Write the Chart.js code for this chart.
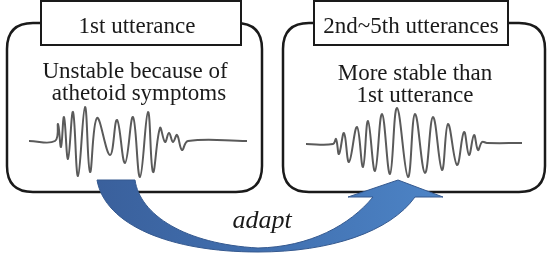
<!DOCTYPE html>
<html>
<head>
<meta charset="utf-8">
<script src="https://cdn.jsdelivr.net/npm/chart.js@4.4.0/dist/chart.umd.min.js"></script>
<style>
  html, body { margin: 0; padding: 0; background: #fff; }
  #wrap { width: 548px; height: 254px; position: relative; }
  .pre { font-family: "Liberation Serif"; position: absolute; left: -999px; }
</style>
</head>
<body>
<div id="wrap"><canvas id="diagram"></canvas></div>
<span class="pre">x</span><span class="pre" style="font-style:italic">x</span>
<script>
// waveforms (x, y in picture units)
var firstUtter = [
  [29,141],[55,141],[58,124],[61,147],[64,117],[68,159],[73,112],[78,176],
  [85,107],[90,172],[97,118],[110,155],[117,120],[125,163],[133,117],[140,177],
  [148,112],[153,172],[160,128],[165,142],[169,133],[173,142],[177,135],[182,150],
  [188,141],[247,141]
];
var laterUtter = [
  [306,144],[333,144],[336,139],[339,154],[344,133],[349,162],[357,127],[363,167],
  [368,121],[375,171],[382,114],[390,174],[397,108],[408,177],[415,114],[425,173],
  [433,117],[442,170],[448,124],[457,165],[464,132],[469,155],[474,135],[478,150],
  [482,142],[487,143],[522,143]
];

var titles = ["1st utterance", "2nd~5th utterances"];
var notes = [["Unstable because of", "athetoid symptoms"], ["More stable than", "1st utterance"]];
var arrowLabel = "adapt";

function toPts(arr) {
  return arr.map(function (p) { return { x: p[0], y: p[1] }; });
}

function rr(ctx, x, y, w, h, r) {
  ctx.beginPath();
  ctx.moveTo(x + r, y);
  ctx.lineTo(x + w - r, y);
  ctx.quadraticCurveTo(x + w, y, x + w, y + r);
  ctx.lineTo(x + w, y + h - r);
  ctx.quadraticCurveTo(x + w, y + h, x + w - r, y + h);
  ctx.lineTo(x + r, y + h);
  ctx.quadraticCurveTo(x, y + h, x, y + h - r);
  ctx.lineTo(x, y + r);
  ctx.quadraticCurveTo(x, y, x + r, y);
  ctx.closePath();
}

var panels = {
  id: 'panels',
  beforeDatasetsDraw: function (chart) {
    var ctx = chart.ctx, sx = chart.scales.x, sy = chart.scales.y;
    function X(v) { return sx.getPixelForValue(v); }
    function Y(v) { return sy.getPixelForValue(v); }
    ctx.save();
    ctx.strokeStyle = '#1a1a1a';
    ctx.lineWidth = 2.5;
    // outer rounded boxes
    rr(ctx, X(7), Y(23), X(262) - X(7), Y(192) - Y(23), 26);
    ctx.stroke();
    rr(ctx, X(283), Y(23), X(545) - X(283), Y(192) - Y(23), 26);
    ctx.stroke();
    // title boxes
    ctx.lineWidth = 2;
    var tb = [[41, 241], [314, 508]];
    tb.forEach(function (b) {
      ctx.fillStyle = '#fff';
      ctx.fillRect(X(b[0]), Y(1), X(b[1]) - X(b[0]), Y(45) - Y(1));
      ctx.strokeRect(X(b[0]), Y(1), X(b[1]) - X(b[0]), Y(45) - Y(1));
    });
    ctx.fillStyle = '#1a1a1a';
    ctx.textAlign = 'center';
    ctx.textBaseline = 'alphabetic';
    ctx.font = '23px "Liberation Serif"';
    ctx.fillText(titles[0], X(137), Y(33));
    ctx.fillText(titles[1], X(411), Y(33));
    ctx.fillText(notes[0][0], X(135), Y(78));
    ctx.fillText(notes[0][1], X(139), Y(100));
    ctx.fillText(notes[1][0], X(415), Y(80));
    ctx.fillText(notes[1][1], X(415), Y(102));
    ctx.restore();
  },
  afterDatasetsDraw: function (chart) {
    var ctx = chart.ctx, sx = chart.scales.x, sy = chart.scales.y;
    function X(v) { return sx.getPixelForValue(v); }
    function Y(v) { return sy.getPixelForValue(v); }
    ctx.save();
    var g = ctx.createLinearGradient(X(97), 0, X(443), 0);
    g.addColorStop(0, '#3a609c');
    g.addColorStop(0.5, '#4170b0');
    g.addColorStop(1, '#4d84c6');
    ctx.beginPath();
    ctx.moveTo(X(97), Y(180));
    ctx.lineTo(X(135), Y(180));
    ctx.bezierCurveTo(X(140), Y(215), X(185), Y(244), X(258), Y(248));
    ctx.bezierCurveTo(X(310), Y(247), X(350), Y(225), X(373), Y(197));
    ctx.lineTo(X(348), Y(197));
    ctx.lineTo(X(398), Y(180));
    ctx.lineTo(X(443), Y(197));
    ctx.lineTo(X(415), Y(197));
    ctx.bezierCurveTo(X(390), Y(232), X(330), Y(252), X(258), Y(252));
    ctx.bezierCurveTo(X(170), Y(252), X(105), Y(225), X(97), Y(180));
    ctx.closePath();
    ctx.fillStyle = g;
    ctx.fill();
    ctx.strokeStyle = '#35598f';
    ctx.lineWidth = 1;
    ctx.stroke();
    ctx.fillStyle = '#1a1a1a';
    ctx.textAlign = 'center';
    ctx.font = 'italic 26px "Liberation Serif"';
    ctx.fillText(arrowLabel, X(262), Y(228));
    ctx.restore();
  }
};

function build() {
  new Chart(document.getElementById('diagram'), {
    type: 'line',
    data: {
      datasets: [
        { label: titles[0], data: toPts(firstUtter) },
        { label: titles[1], data: toPts(laterUtter) }
      ]
    },
    options: {
      responsive: true,
      maintainAspectRatio: false,
      animation: false,
      layout: { padding: 0 },
      elements: {
        line: { borderColor: '#5a5a5a', borderWidth: 2, tension: 0.4, fill: false },
        point: { radius: 0 }
      },
      scales: {
        x: { type: 'linear', min: 0, max: 548, display: false },
        y: { type: 'linear', min: 0, max: 254, reverse: true, display: false }
      },
      plugins: { legend: { display: false }, tooltip: { enabled: false } }
    },
    plugins: [panels]
  });
}

Promise.all([
  document.fonts.load('23px "Liberation Serif"'),
  document.fonts.load('italic 26px "Liberation Serif"')
]).then(build, build);
</script>
</body>
</html>
